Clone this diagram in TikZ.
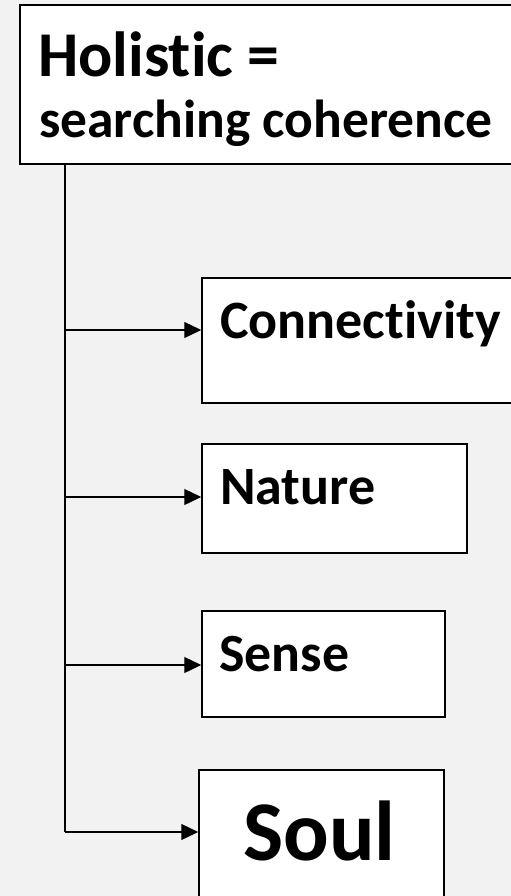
\documentclass[tikz,border=0pt]{standalone}
\usepackage{fontspec}
\setmainfont{Carlito}[Ligatures={NoCommon,NoRare,NoContextual}]
\usetikzlibrary{arrows.meta}
\definecolor{bgc}{HTML}{F2F2F2}
\tikzset{
  box/.style={draw=black, fill=white, line width=1.5bp, inner sep=0pt, rectangle},
  lbl/.style={anchor=base west, inner sep=0pt, font=\bfseries},
  conn/.style={draw=black, line width=1.3bp, -{Triangle[length=17bp,width=16bp]}},
  trunkline/.style={draw=black, line width=1.3bp}
}
\begin{document}
\begin{tikzpicture}[x=1bp,y=-1bp]
\useasboundingbox (0,0) rectangle (511,896);
\fill[bgc] (0,0) rectangle (511,896);
\clip (0,0) rectangle (511,896);
% boxes
\node[box, minimum width=520bp, minimum height=159bp] (top) at (280,84.5) {};
\node[box, minimum width=338bp, minimum height=125bp] (conn) at (371,340.5) {};
\node[box, minimum width=265bp, minimum height=109bp] (nat) at (334.5,498.5) {};
\node[box, minimum width=243bp, minimum height=106bp] (sen) at (323.5,664) {};
\node[box, minimum width=245bp, minimum height=160bp] (soul) at (321.5,850) {};
% texts
\node[lbl, font=\bfseries\fontsize{63.8bp}{63.8bp}\selectfont] (t1) at (38,76) {Holistic =};
\node[lbl, font=\bfseries\fontsize{53.5bp}{53.5bp}\selectfont] (t2) at (39,137) {searching coherence};
\node[lbl, font=\bfseries\fontsize{54bp}{54bp}\selectfont] (tc) at (220,338) {Connectivity};
\node[lbl, font=\bfseries\fontsize{54bp}{54bp}\selectfont] (tn) at (220,504) {Nature};
\node[lbl, font=\bfseries\fontsize{53.8bp}{53.8bp}\selectfont] (ts) at (219,671) {Sense};
\node[lbl, font=\bfseries\fontsize{85bp}{85bp}\selectfont] (tsoul) at (243,860) {Soul};
% connectors
\coordinate (trunk) at (65,164);
\coordinate (cy) at (0,330);
\coordinate (ny) at (0,497);
\coordinate (sy) at (0,665);
\coordinate (ly) at (0,832);
\draw[trunkline] (top.south -| trunk) -- (ly -| trunk);
\draw[conn] (cy -| trunk) -- (cy -| conn.west);
\draw[conn] (ny -| trunk) -- (ny -| nat.west);
\draw[conn] (sy -| trunk) -- (sy -| sen.west);
\draw[conn] (ly -| trunk) -- (ly -| soul.west);
\end{tikzpicture}
\end{document}
